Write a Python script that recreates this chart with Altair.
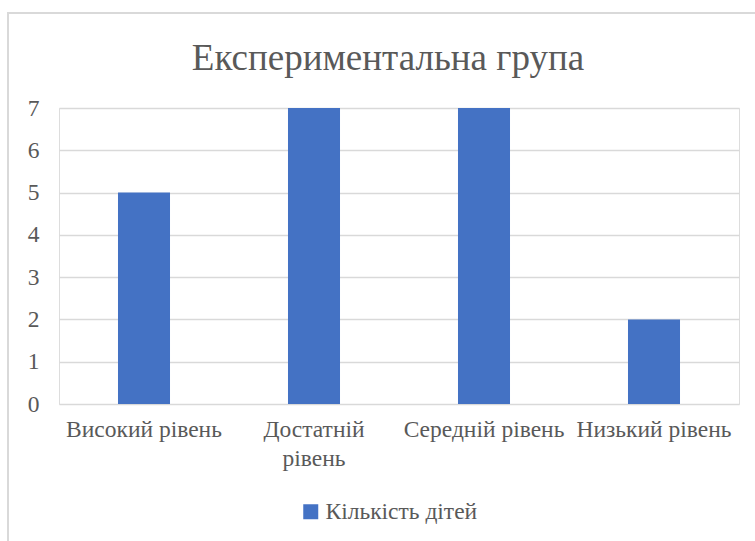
import altair as alt
import pandas as pd

categories = ["Високий рівень", "Достатній рівень", "Середній рівень", "Низький рівень"]
values = [5, 7, 7, 2]
series_name = "Кількість дітей"
title_text = "Експериментальна група"

df = pd.DataFrame({"cat": categories, "val": values, "series": [series_name] * len(categories)})

FONT = "Liberation Serif"
GRAY = "#595959"

bars = alt.Chart(df).mark_bar(color="#4472C4").encode(
    x=alt.X("cat:N", sort=categories, title=None,
            scale=alt.Scale(paddingInner=0.694, paddingOuter=0.347),
            axis=alt.Axis(labelAngle=0, labelFont=FONT, labelFontSize=23.5, labelColor=GRAY,
                          labelPadding=13, ticks=False, domain=False, labelLimit=300,
                          labelExpr="datum.label == 'Достатній рівень' ? ['Достатній', 'рівень'] : datum.label",
                          labelLineHeight=29, labelBaseline="top")),
    y=alt.Y("val:Q", title=None, scale=alt.Scale(domain=[0, 7], nice=False),
            axis=alt.Axis(values=[0, 1, 2, 3, 4, 5, 6, 7], labelFont=FONT, labelFontSize=23.5,
                          labelColor=GRAY, labelPadding=20, ticks=False, domain=False,
                          grid=True, gridColor="#D9D9D9", gridWidth=1.3)),
    color=alt.Color("series:N", scale=alt.Scale(range=["#4472C4"]), title=None,
                    legend=alt.Legend(orient="none", legendX=240, legendY=392, symbolType="square",
                                      symbolSize=225, symbolStrokeWidth=0, labelFont=FONT,
                                      labelFontSize=23.5, labelColor=GRAY, symbolOffset=0,
                                      labelOffset=3, padding=0)),
)

border = alt.Chart(df).mark_rect(fill=None, stroke="#D9D9D9", strokeWidth=2).encode(
    x=alt.value(-51), x2=alt.value(730), y=alt.value(-95), y2=alt.value(460)
)

chart = alt.layer(border, bars).properties(
    width=680, height=296,
    title=alt.Title(title_text, font=FONT, fontSize=37, fontWeight="normal", color=GRAY,
                    anchor="middle", frame="group", dx=-11, offset=-66),
    autosize=alt.AutoSizeParams(type="none"),
    padding={"left": 59, "top": 108, "right": 16, "bottom": 137},
).configure_view(stroke=None).configure(background="white")

chart.save("out.html", embed_options={"renderer": "svg", "actions": False})
